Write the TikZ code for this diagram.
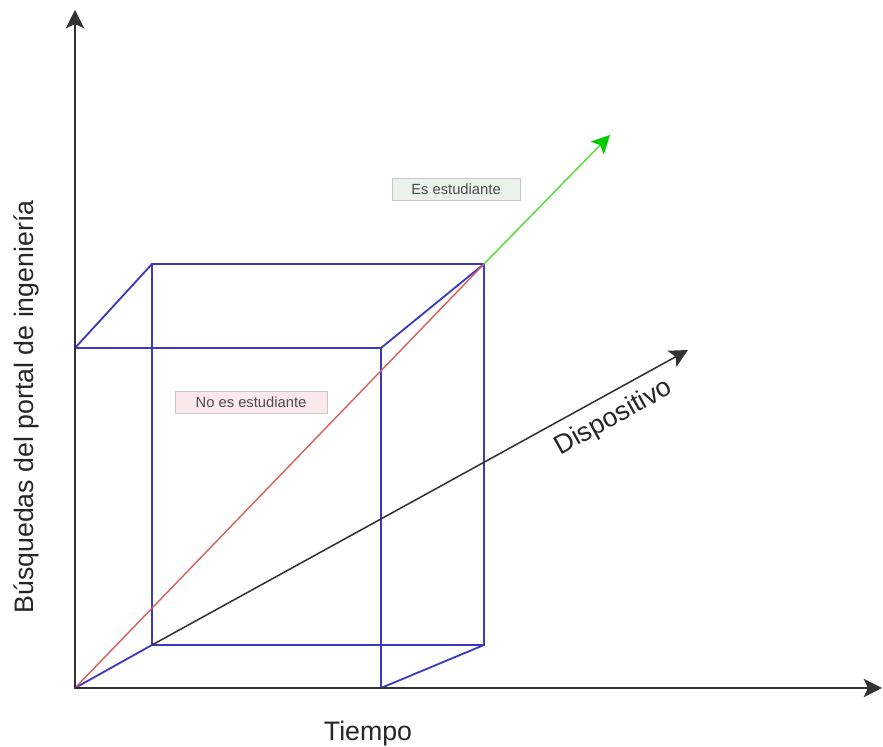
\documentclass[tikz,border=0pt]{standalone}
\usepackage{fontspec}
\setmainfont{Liberation Sans}
\usetikzlibrary{arrows.meta, positioning}
\definecolor{CubeBlue}{HTML}{3A3AC0}
\definecolor{DiagRed}{HTML}{D9605A}
\definecolor{ArrowGreen}{HTML}{5CDD40}
\definecolor{TagGreen}{HTML}{EAF3EA}
\definecolor{TagRed}{HTML}{FBE8EA}

\begin{document}
\begin{tikzpicture}[x=0.025cm, y=0.025cm,
    axis/.style={-{Stealth[length=13pt, width=13pt, inset=3pt]}, line width=1.1pt, color=black!80},
    edge/.style={line width=1.3pt, color=CubeBlue},
    tag/.style={rectangle, draw=black!22, fill=#1, line width=0.6pt,
                minimum height=0.55cm, inner sep=2pt, font=\fontsize{10.5}{12}\selectfont, text=black!70},
    axlabel/.style={font=\fontsize{19}{22}\selectfont, text=black!85}
]
    \useasboundingbox (0,0) rectangle (883,747);
    % axes
    \coordinate (o) at (75,59);
    \coordinate (ytop) at (75,737);
    \coordinate (xend) at (882,59);
    % cube corners, front and back face
    \coordinate (f1) at (75,59);   \coordinate (f2) at (381,59);
    \coordinate (f3) at (381,399); \coordinate (f4) at (75,399);
    \coordinate (b1) at (152,102); \coordinate (b2) at (484,102);
    \coordinate (b3) at (484,483); \coordinate (b4) at (152,483);
    \coordinate (gtip) at (610,612);
    \coordinate (dtip) at (688,397);

    \draw[edge] (f1) -- (f2) -- (f3) -- (f4) -- cycle;
    \draw[edge] (b1) -- (b2) -- (b3) -- (b4) -- cycle;
    \draw[edge] (f1) -- (b1);
    \draw[edge] (f2) -- (b2);
    \draw[edge] (f3) -- (b3);
    \draw[edge] (f4) -- (b4);
    \draw[line width=1pt, color=DiagRed] (o) -- (b3);
    \draw[axis, color=ArrowGreen, -{Stealth[length=13pt, width=13pt, inset=3pt, color=green!80!black]}] (b3) -- (gtip);
    \draw[axis] (b1) -- (dtip);
    \draw[axis] (o) -- (ytop);
    \draw[axis] (o) -- (xend);

    \node[tag=TagGreen, minimum width=3.2cm] (es) at (456,558) {Es estudiante};
    \node[tag=TagRed, minimum width=3.8cm] (noes) at (251,345) {No es estudiante};
    \node[axlabel, rotate=29] (disp) at (614,329) {Dispositivo};
    \node[axlabel] (tiempo) at (368,13) {Tiempo};
    \node[axlabel, rotate=90] (busq) at (26,340) {Búsquedas del portal de ingeniería};
\end{tikzpicture}
\end{document}
